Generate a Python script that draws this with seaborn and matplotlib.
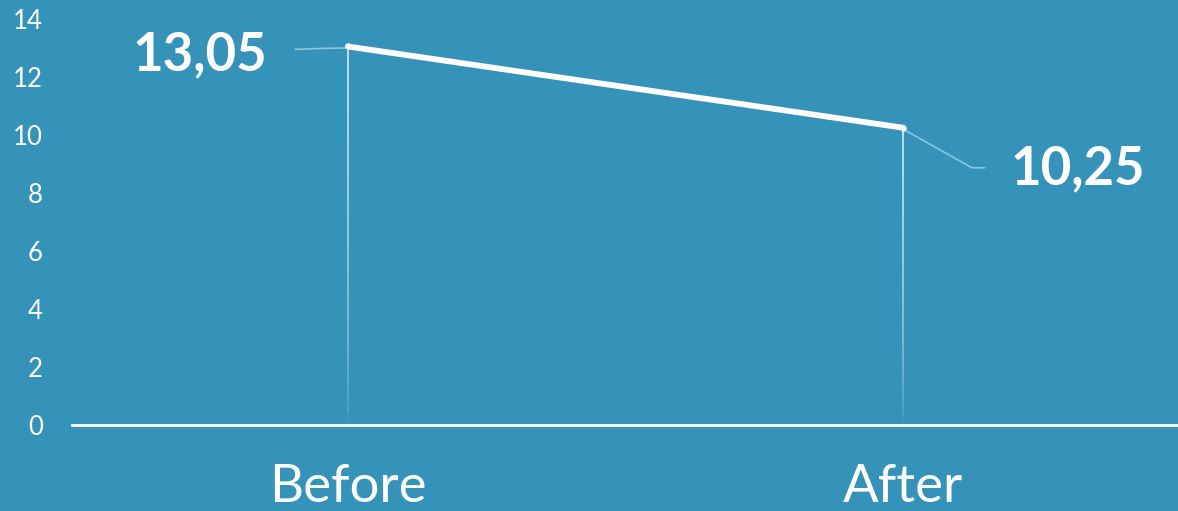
import numpy as np
import pandas as pd
import matplotlib.pyplot as plt
import seaborn as sns

# -------- data --------
phases = ["Before", "After"]
values = [13.05, 10.25]
y_ticks = [0, 2, 4, 6, 8, 10, 12, 14]

BG = "#3593ba"
LEADER = "#8cc4dd"

sns.set_theme(style="white")
plt.rcParams["font.family"] = ["Lato", "DejaVu Sans"]

df = pd.DataFrame({"phase": phases, "value": values})

fig = plt.figure(figsize=(11.78, 5.11), dpi=100, facecolor=BG)
ax = fig.add_axes([0.061, 0.168, 0.939, 0.795])
ax.set_facecolor(BG)

# drop lines from each point to the baseline, fading toward the bottom
for i, v in enumerate(values):
    steps = 30
    ys = np.linspace(0, v, steps + 1)
    for k in range(steps):
        a = 0.05 + 0.85 * (k / steps) ** 0.6
        ax.plot([i, i], [ys[k], ys[k + 1]], color="white", lw=1.1, alpha=a,
                solid_capstyle="butt", zorder=2)

sns.lineplot(data=df, x="phase", y="value", sort=False, color="white",
             lw=4.2, marker="o", markersize=4, markeredgecolor="#dfeff6",
             markerfacecolor="white", ax=ax, zorder=4)

# value labels with leader lines
labels = [f"{v:.2f}".replace(".", ",") for v in values]
ax.annotate(labels[0], xy=(0, values[0]), xytext=(-148, -8),
            textcoords="offset pixels", ha="center", va="center",
            fontsize=38, fontweight="bold", color="white")
ax.plot([-0.095, -0.05, 0], [12.95, 12.98, values[0] - 0.05],
        color=LEADER, lw=1.2, zorder=3)
ax.annotate(labels[1], xy=(1, values[1]), xytext=(175, -41),
            textcoords="offset pixels", ha="center", va="center",
            fontsize=38, fontweight="bold", color="white")
ax.plot([1, 1.124, 1.147], [values[1] - 0.05, 8.87, 8.87],
        color=LEADER, lw=1.2, zorder=3)

ax.set_xlim(-0.497, 1.495)
ax.set_ylim(0, 14)
ax.set_yticks(y_ticks)
ax.tick_params(axis="y", colors="white", labelsize=18.5, length=0, pad=21)
ax.tick_params(axis="x", colors="white", labelsize=38, length=0, pad=28)
ax.set_xlabel("")
ax.set_ylabel("")
for lbl in ax.get_yticklabels():
    lbl.set_horizontalalignment("right")

for s in ["top", "right", "left"]:
    ax.spines[s].set_visible(False)
ax.spines["bottom"].set_color("white")
ax.spines["bottom"].set_linewidth(2)
ax.spines["bottom"].set_zorder(5)

fig.savefig("out.png", dpi=100, facecolor=BG)
